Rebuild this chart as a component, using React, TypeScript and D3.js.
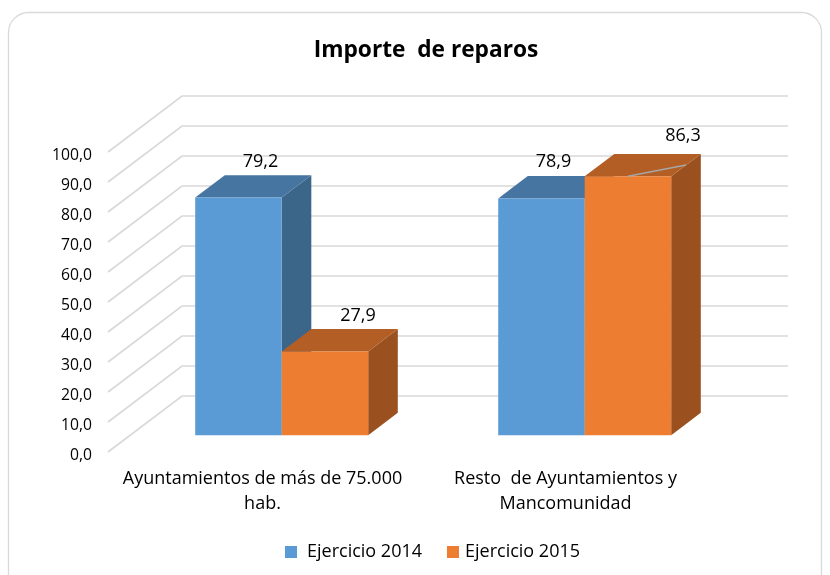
import React, { useEffect, useRef } from "react";
import * as d3 from "d3";

const categories = ["Ayuntamientos de más de 75.000 hab.", "Resto  de Ayuntamientos y Mancomunidad"];
const categoryLines = [
  ["Ayuntamientos de más de 75.000", "hab."],
  ["Resto  de Ayuntamientos y", "Mancomunidad"],
];
const seriesNames = ["Ejercicio 2014", "Ejercicio 2015"];
const values2014 = [79.2, 78.9];
const values2015 = [27.9, 86.3];
const ticks = [0, 10, 20, 30, 40, 50, 60, 70, 80, 90, 100];

const fontFamily = "'Open Sans', sans-serif";
const faces = [
  { front: "#5b9bd5", top: "#4675a1", side: "#3b6589" },
  { front: "#ed7d31", top: "#b35e24", side: "#9a511f" },
];

export default function App() {
  const ref = useRef<SVGSVGElement>(null);

  useEffect(() => {
    const svg = d3.select(ref.current);
    svg.selectAll("*").remove();

    // back wall of the 3d box
    const xBand = d3.scaleBand().domain(categories).range([182, 788]);
    const xInner = d3.scaleBand().domain(seriesNames).range([0, 173]);
    const yScale = d3.scaleLinear().domain([0, 100]).range([396, 96]);

    // depth goes from 0 (front of floor) to 1 (back wall)
    const depthX = d3.scaleLinear().domain([0, 1]).range([-74, 0]);
    const depthY = d3.scaleLinear().domain([0, 1]).range([56, 0]);
    const project = (x: number, v: number, z: number): [number, number] => [
      x + depthX(z),
      yScale(v) + depthY(z),
    ];
    const line = d3.line();

    svg.append("rect")
      .attr("x", 8.5)
      .attr("y", 12.5)
      .attr("width", 813)
      .attr("height", 600)
      .attr("rx", 20)
      .attr("fill", "#fff")
      .attr("stroke", "#d9d9d9")
      .attr("stroke-width", 1.3);

    svg.append("text")
      .attr("x", 426)
      .attr("y", 57)
      .attr("text-anchor", "middle")
      .attr("font-family", fontFamily)
      .attr("font-size", 22.7)
      .attr("font-weight", 700)
      .attr("fill", "#000")
      .style("white-space", "pre")
      .text("Importe  de reparos");

    // gridlines: wall plus side wall
    ticks.forEach((t) => {
      svg.append("path")
        .attr("d", line([project(182, t, 0), project(182, t, 1), project(788, t, 1)]))
        .attr("fill", "none")
        .attr("stroke", "#d9d9d9")
        .attr("stroke-width", 1.7);
    });

    // y axis sits on the front edge
    const yAxisScale = d3.scaleLinear().domain([0, 100]).range([454, 154]);
    const yAxis = d3.axisLeft(yAxisScale)
      .tickValues(ticks)
      .tickSize(0)
      .tickPadding(0)
      .tickFormat((d) => d3.format(".1f")(d as number).replace(".", ","));
    const yG = svg.append("g")
      .attr("transform", "translate(92,0)")
      .call(yAxis);
    yG.select(".domain").remove();
    yG.selectAll("text")
      .attr("font-family", fontFamily)
      .attr("font-size", 15.7)
      .attr("fill", "#000");

    const zFront = 0.3;
    const zBack = 0.7;
    const drawBar = (cat: string, s: number, v: number) => {
      const x0 = xBand(cat)! + (xBand.bandwidth() - 173) / 2 + xInner(seriesNames[s])!;
      const x1 = x0 + xInner.bandwidth();
      const c = faces[s];
      const g = svg.append("g");
      g.append("path")
        .attr("d", line([project(x1, 0, zFront), project(x1, 0, zBack), project(x1, v, zBack), project(x1, v, zFront)]) + "Z")
        .attr("fill", c.side);
      g.append("path")
        .attr("d", line([project(x0, v, zFront), project(x0, v, zBack), project(x1, v, zBack), project(x1, v, zFront)]) + "Z")
        .attr("fill", c.top);
      g.append("path")
        .attr("d", line([project(x0, 0, zFront), project(x1, 0, zFront), project(x1, v, zFront), project(x0, v, zFront)]) + "Z")
        .attr("fill", c.front);
    };

    drawBar(categories[0], 0, values2014[0]);
    drawBar(categories[0], 1, values2015[0]);
    drawBar(categories[1], 0, values2014[1]);
    drawBar(categories[1], 1, values2015[1]);

    // leader line of the moved label
    const lx = xBand(categories[1])! + (xBand.bandwidth() - 173) / 2 + xInner(seriesNames[1])!;
    svg.append("path")
      .attr("d", line([
        project(lx + xInner.bandwidth() / 2, values2015[1], zFront),
        [686, 165],
      ]))
      .attr("fill", "none")
      .attr("stroke", "#a6a6a6")
      .attr("stroke-width", 1.5);

    // data labels were dragged by hand in the original, hence the offsets
    const labels = [
      { cat: 0, s: 0, v: values2014[0], dx: 22, dy: -37 },
      { cat: 0, s: 1, v: values2015[0], dx: 33, dy: -37 },
      { cat: 1, s: 0, v: values2014[1], dx: 12, dy: -38 },
      { cat: 1, s: 1, v: values2015[1], dx: 55, dy: -42 },
    ];
    labels.forEach((d) => {
      const x0 = xBand(categories[d.cat])! + (xBand.bandwidth() - 173) / 2 + xInner(seriesNames[d.s])!;
      const p = project(x0 + xInner.bandwidth() / 2, d.v, zFront);
      svg.append("text")
        .attr("x", p[0] + d.dx)
        .attr("y", p[1] + d.dy)
        .attr("dy", "0.35em")
        .attr("text-anchor", "middle")
        .attr("font-family", fontFamily)
        .attr("font-size", 18)
        .attr("fill", "#000")
        .text(d3.format(".1f")(d.v).replace(".", ","));
    });

    // category labels
    categoryLines.forEach((lines, i) => {
      const cx = xBand(categories[i])! + xBand.bandwidth() / 2 - 71;
      lines.forEach((l, j) => {
        svg.append("text")
          .attr("x", cx)
          .attr("y", 478 + j * 25)
          .attr("dy", "0.35em")
          .attr("text-anchor", "middle")
          .attr("font-family", fontFamily)
          .attr("font-size", 18)
          .attr("fill", "#000")
          .style("white-space", "pre")
          .text(l);
      });
    });

    // legend
    const legendX = [285, 447];
    const legendTextX = [307, 465];
    seriesNames.forEach((name, i) => {
      svg.append("rect")
        .attr("x", legendX[i])
        .attr("y", 546)
        .attr("width", 12)
        .attr("height", 12)
        .attr("fill", faces[i].front);
      svg.append("text")
        .attr("x", legendTextX[i])
        .attr("y", 551)
        .attr("dy", "0.35em")
        .attr("font-family", fontFamily)
        .attr("font-size", 18)
        .attr("fill", "#000")
        .text(name);
    });
  }, []);

  return (
    <svg
      ref={ref}
      width={830}
      height={575}
      style={{ position: "fixed", left: 0, top: 0, display: "block" }}
    />
  );
}
